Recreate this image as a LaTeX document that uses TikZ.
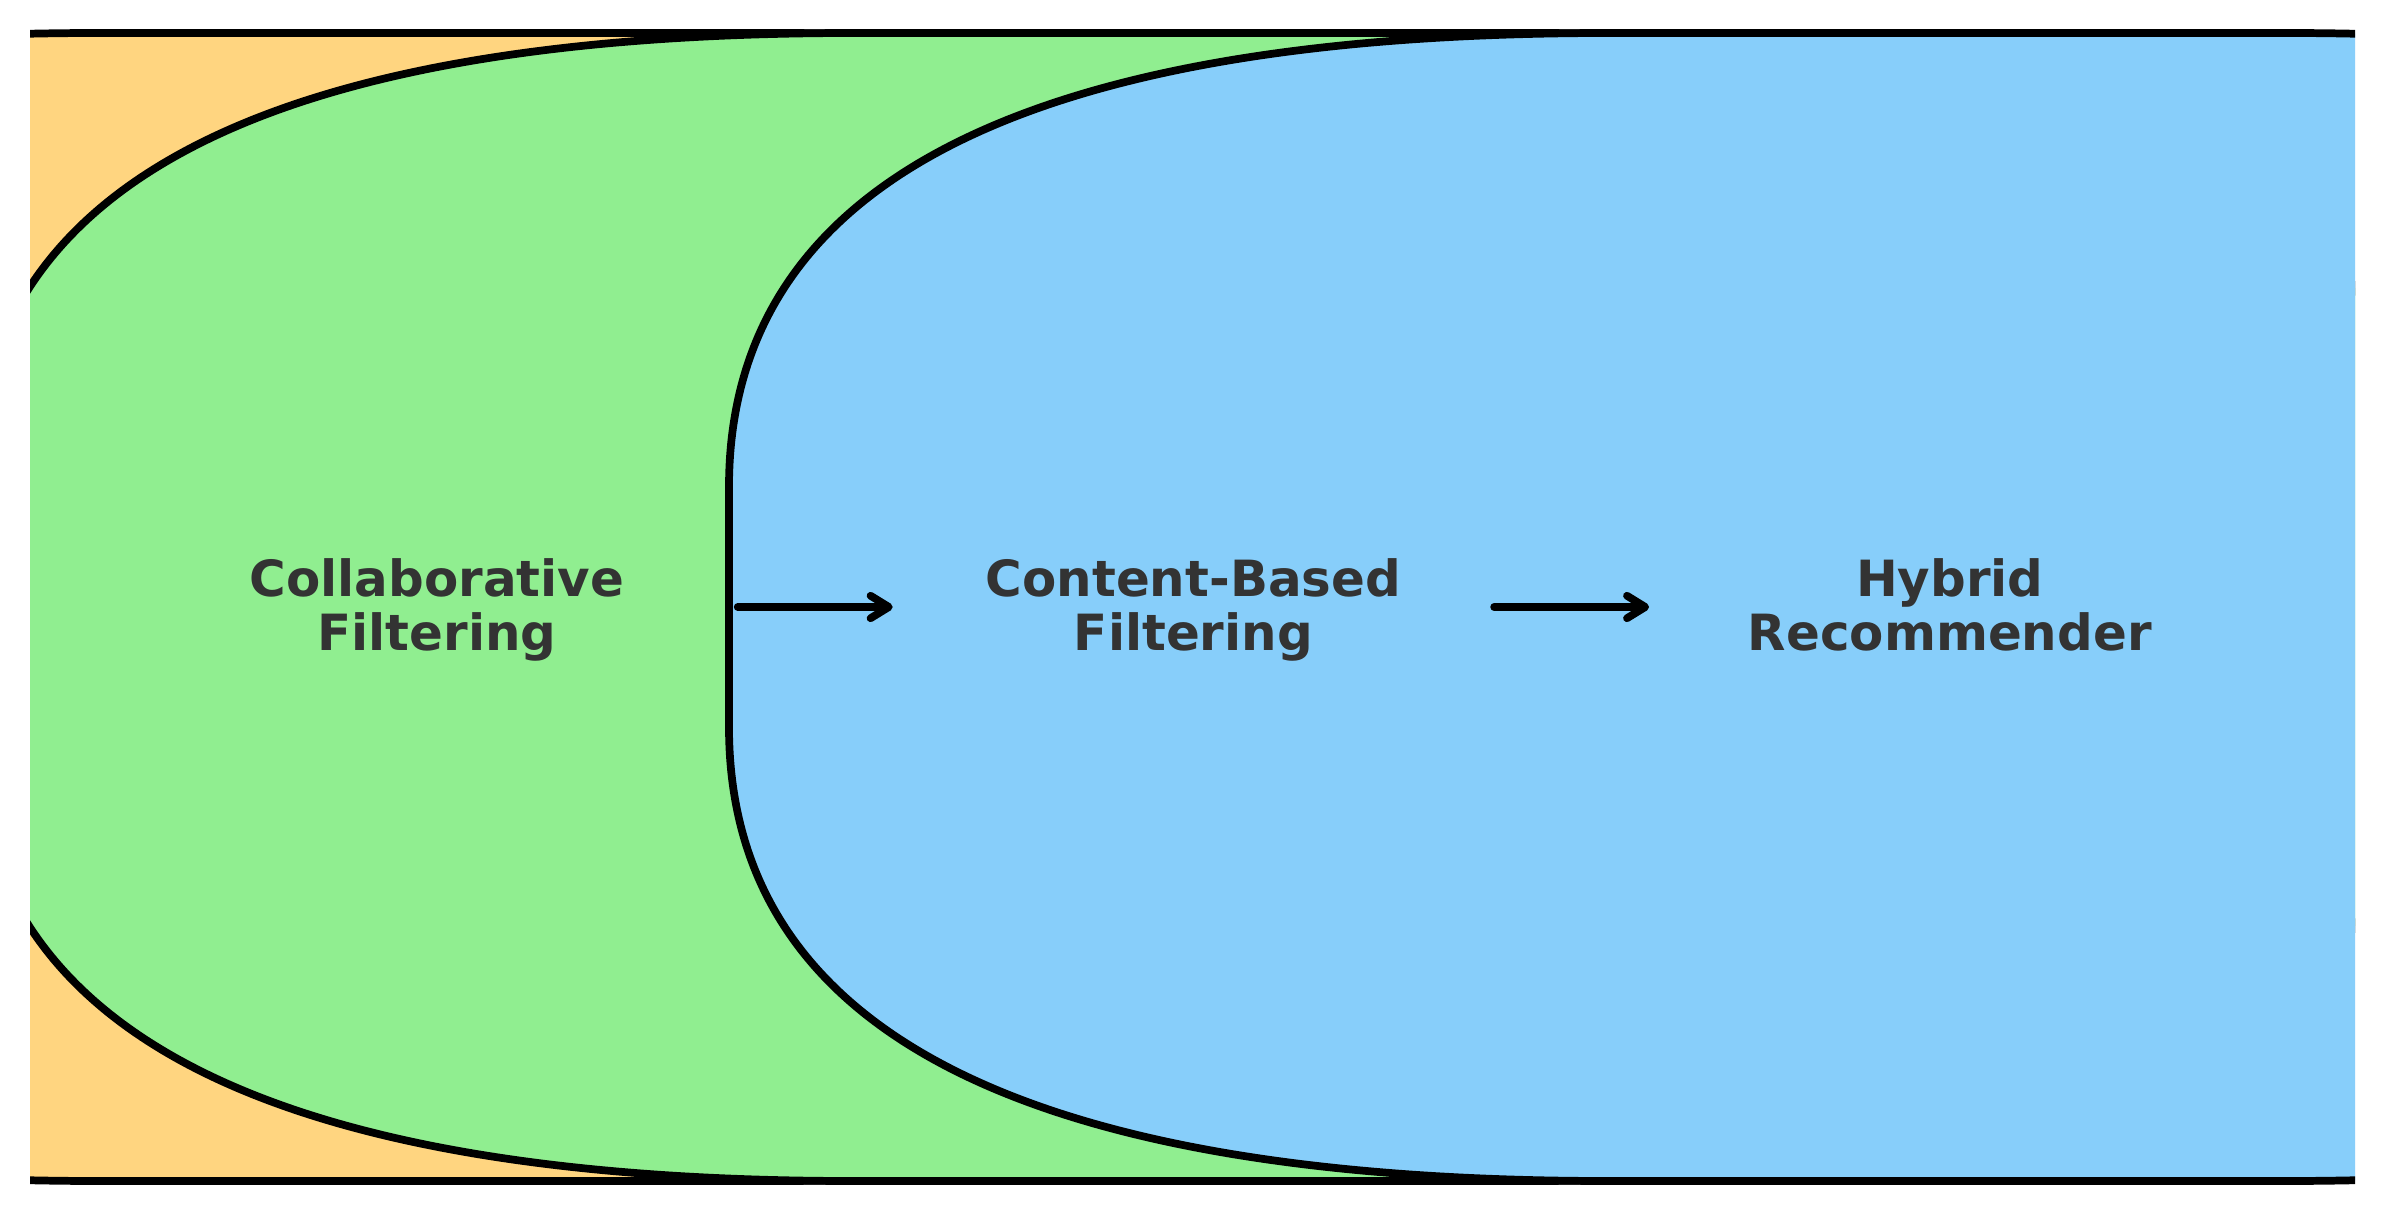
\documentclass[tikz,border=0pt]{standalone}
\usepackage{fontspec}
\setmainfont{DejaVu Sans}
\usepackage{xcolor}
\usepackage{tikz}
\usetikzlibrary{positioning}
\usetikzlibrary{arrows.meta}

\definecolor{boxorange}{HTML}{FFD580}
\definecolor{boxgreen}{HTML}{90EE90}
\definecolor{boxblue}{HTML}{87CEFA}
\definecolor{labelgray}{HTML}{333333}

\begin{document}
\begin{tikzpicture}[x=0.1mm, y=-0.1mm,
        stage/.style={text=labelgray,
            font=\fontsize{14.2}{15.5}\selectfont\bfseries,
            align=center, minimum width=6cm, inner sep=0pt},
        flow/.style={line width=2.2pt, line cap=round,
            -{Straight Barb[length=5.2pt, width=6.4pt, round]}}]
        \fill[white] (0,0) rectangle (2385,1215);
        \useasboundingbox (0,0) rectangle (2385,1215);

        \begin{scope}
            \clip (30,30) rectangle (2355,1185);
            \foreach \lft/\col in {-781/boxorange, -26/boxgreen, 729/boxblue}
            {
                \draw[fill=\col, draw=black, line width=2.2pt]
                (\lft, 487) -- (\lft, 727)
                .. controls (\lft, 1030) and (\lft+293, 1181) .. (\lft+880, 1181)
                -- (\lft+1556, 1181)
                .. controls (\lft+2143, 1181) and (\lft+2436, 1030) .. (\lft+2436, 727)
                -- (\lft+2436, 487)
                .. controls (\lft+2436, 184) and (\lft+2143, 33) .. (\lft+1556, 33)
                -- (\lft+880, 33)
                .. controls (\lft+293, 33) and (\lft, 184) .. (\lft, 487) -- cycle;
            }
        \end{scope}

        \node[stage] (collab) at (437,610) {Collaborative\\Filtering};
        \node[stage, base right=1.55cm of collab] (content) {Content-Based\\Filtering};
        \node[stage, base right=1.55cm of content] (hybrid) {Hybrid\\Recommender};

        \draw[flow] (collab.east |- 0,607) -- (content.west |- 0,607);
        \draw[flow] (content.east |- 0,607) -- (hybrid.west |- 0,607);
\end{tikzpicture}
\end{document}
